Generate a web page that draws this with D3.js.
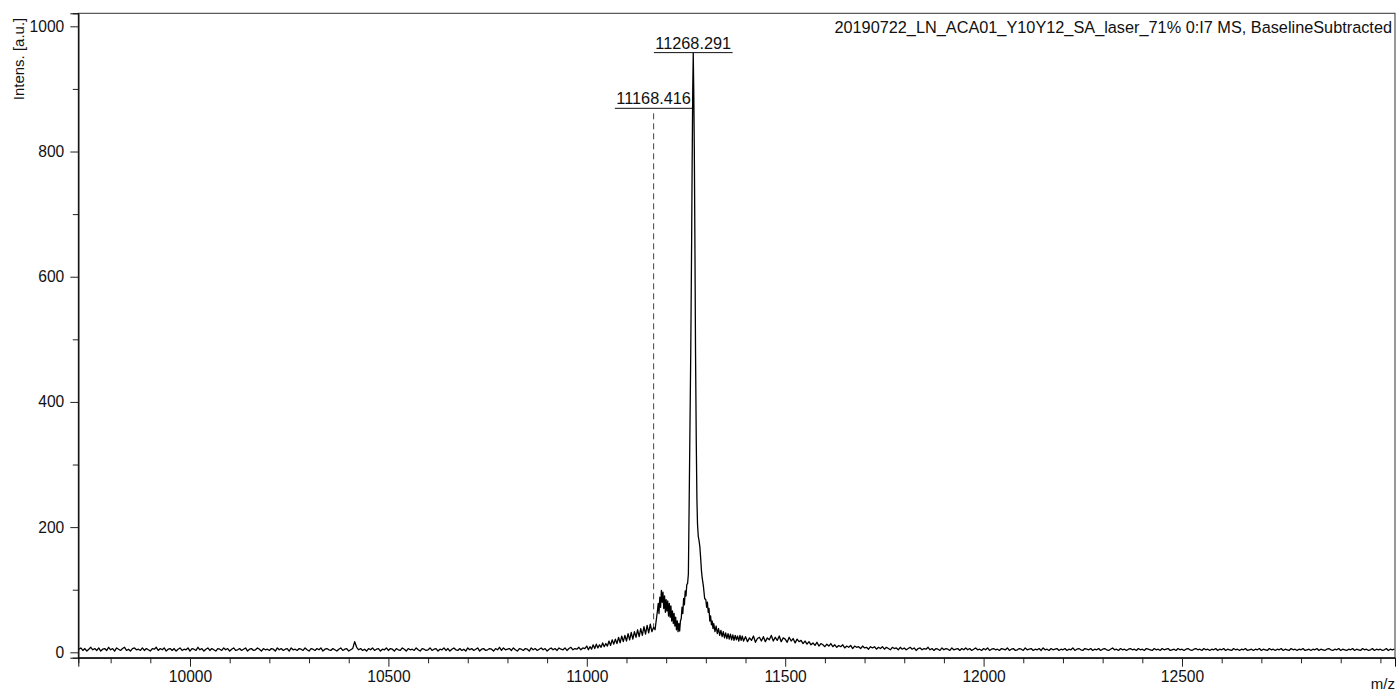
<!DOCTYPE html>
<html>
<head>
<meta charset="utf-8">
<script src="https://cdn.jsdelivr.net/npm/d3@7"></script>
<style>
  html, body { margin: 0; padding: 0; background: #fff; }
  svg { display: block; font-family: "Liberation Sans", Arial, Helvetica, sans-serif; }
</style>
</head>
<body>
<svg id="chart" width="1399" height="695"></svg>
<script>
// ---- Spectrum data -------------------------------------------------------
const spectrumTitle = "20190722_LN_ACA01_Y10Y12_SA_laser_71% 0:I7 MS, BaselineSubtracted";

// Low-mass baseline, sampled every 5 m/z from 9720 to 10995
const baselineStart = 9720, baselineStep = 5;
const baselineIntensity = [
  5,7,3,6,2,5,8,4,6,3,7,2,5,6,3,8,
  4,6,2,7,5,3,6,8,3,5,2,6,7,4,5,3,
  7,3,6,4,2,6,5,8,3,6,4,7,2,5,6,3,
  6,2,5,7,3,5,4,7,2,6,5,3,8,4,6,2,
  5,7,3,6,4,2,6,5,3,7,4,6,2,5,7,3,
  4,6,3,5,7,2,5,6,3,4,7,5,2,6,4,5,
  3,6,5,2,7,4,6,3,5,6,2,7,4,5,3,6,
  5,3,7,4,2,6,5,3,6,4,7,2,5,6,4,3,
  6,4,2,5,7,3,5,6,2,4,6,17,8,4,6,3,
  5,2,6,4,7,3,5,6,2,5,4,7,3,6,5,2,
  6,4,3,7,5,2,6,4,5,3,7,4,2,6,5,3,
  4,7,3,5,6,2,5,4,7,3,6,2,5,7,4,3,
  6,3,5,2,7,4,6,3,5,7,2,5,6,3,4,6,
  5,2,6,4,8,3,7,4,5,6,3,7,4,2,6,5,
  3,6,5,2,7,4,6,3,5,7,4,6,2,5,7,4,
  6,3,7,5,4,7,3,6,8,4,6,5,8,4,7,6
];

// Main peak cluster, [m/z, intensity]
const peakRegion = [
  [11000,10],[11004,4],[11008,9],[11012,5],[11016,12],[11020,6],[11024,13],[11028,7],
  [11032,12],[11036,8],[11040,15],[11044,9],[11048,14],[11052,10],[11056,18],[11060,11],
  [11064,20],[11068,13],[11072,21],[11076,14],[11080,24],[11084,15],[11088,26],[11092,17],
  [11096,27],[11100,18],[11104,30],[11108,20],[11112,32],[11116,21],[11120,33],[11124,24],
  [11128,36],[11132,25],[11136,38],[11140,27],[11144,41],[11148,29],[11152,43],[11156,31],
  [11160,45],[11164,33],[11168.416,40],[11172,36],
  [11174,46],[11176,56],[11178,66],[11180,78],[11182,62],[11184,88],[11186,72],[11188,99],
  [11190,80],[11192,96],[11194,70],[11196,90],[11198,64],[11200,84],[11202,66],[11204,82],
  [11206,58],[11208,78],[11210,56],[11212,74],[11214,50],[11216,66],[11218,46],[11220,62],
  [11222,42],[11224,56],[11226,36],[11228,50],[11230,33],[11232,46],[11234,34],[11236,50],
  [11238,54],[11240,72],[11242,62],[11244,86],[11246,76],[11248,98],[11250,90],[11252,108],
  [11254,110],[11256,125],[11258,240],[11260,360],[11262,480],[11264,640],[11265.5,780],
  [11267,900],[11268.291,957],[11269.5,900],[11271,800],[11272.5,650],[11274,480],
  [11276,330],[11277.5,245],[11279,205],[11281,185],[11283,178],[11285,168],[11287,150],
  [11289,130],[11291,118],[11294,105],[11297,86],
  [11300,84],[11302,72],[11304,80],[11306,64],[11308,70],[11310,50],[11312,58],[11314,44],
  [11316,50],[11318,38],[11320,46],[11323,33],[11326,42],[11329,30],[11332,38],[11335,27],
  [11338,35],[11341,25],[11344,33],[11347,23],[11350,31],[11353,22],[11356,30],[11359,21],
  [11362,29],[11365,20],[11368,28],[11371,19],[11374,27],[11377,20],[11380,26],[11383,18],
  [11386,27],[11389,19],[11392,26],[11395,18]
];

// High-mass tail, sampled every 5 m/z from 11400 to 13035
const tailStart = 11400, tailStep = 5;
const tailIntensity = [
  25,17,23,19,26,16,22,24,18,25,17,23,20,27,18,24,
  19,26,17,23,21,16,24,18,22,15,21,17,19,14,18,13,
  17,12,15,11,16,10,14,12,9,13,10,14,9,12,8,11,
  9,12,7,10,8,11,6,10,8,9,6,10,7,8,5,9,
  7,9,5,8,6,9,5,8,6,4,8,6,7,4,8,5,
  7,4,6,8,5,7,3,6,7,4,6,5,8,4,6,3,
  6,5,3,7,4,6,5,3,7,4,5,6,3,6,4,7,
  4,6,3,5,7,4,5,3,6,4,7,3,5,6,4,5,
  3,6,5,4,7,3,5,6,3,4,6,5,3,7,4,5,
  6,3,5,4,6,3,7,4,5,3,6,4,5,6,3,5,
  4,6,3,5,4,7,3,5,6,4,3,6,5,4,6,3,
  5,4,6,3,5,6,4,3,5,7,4,5,3,6,4,5,
  3,5,6,4,5,3,6,4,5,3,6,5,4,3,6,4,
  5,3,6,4,5,6,3,4,5,3,6,4,5,3,5,6,
  4,3,5,6,4,5,3,6,4,5,3,5,4,6,3,5,
  4,6,3,5,4,3,6,4,5,3,5,4,6,3,4,5,
  3,5,4,6,3,5,4,3,6,4,5,3,5,4,6,3,
  5,4,3,6,4,5,3,5,4,6,3,4,5,3,5,4,
  6,3,5,4,3,5,6,4,3,5,4,6,3,5,4,3,
  5,4,6,3,5,4,3,6,4,5,3,4,6,3,5,4,
  5,3,4,6,3,5,4,5
];

// Labelled peaks
const peakLabels = [11268.291, 11168.416];

// Axis ticks
const xMajorTicks = [10000, 10500, 11000, 11500, 12000, 12500];
const yMajorTicks = [0, 200, 400, 600, 800, 1000];

// ---- Assemble spectrum ---------------------------------------------------
const spectrum = []
  .concat(baselineIntensity.map((v, i) => [baselineStart + i * baselineStep, v]))
  .concat(peakRegion)
  .concat(tailIntensity.map((v, i) => [tailStart + i * tailStep, v]));

// ---- Layout ---------------------------------------------------------------
const plot = { left: 78.3, right: 1395, top: 13.3, bottom: 657.7 };
const svg = d3.select("#chart");

const x = d3.scaleLinear().domain([9718.5, 13036.8]).range([plot.left, plot.right]);
const y = d3.scaleLinear().domain([-8.6, 1020.8]).range([plot.bottom, plot.top]);

svg.append("defs").append("clipPath").attr("id", "plotClip")
  .append("rect")
  .attr("x", plot.left).attr("y", plot.top)
  .attr("width", plot.right - plot.left).attr("height", plot.bottom - plot.top);

// Frame
svg.append("rect")
  .attr("x", plot.left).attr("y", plot.top)
  .attr("width", plot.right - plot.left).attr("height", plot.bottom - plot.top)
  .attr("fill", "none").attr("stroke", "#333").attr("stroke-width", 1);

// ---- X axis ----------------------------------------------------------------
const xMinor = d3.range(9800, 13001, 100).filter(v => !xMajorTicks.includes(v));
const xAxisMinor = d3.axisBottom(x).tickValues(xMinor).tickSize(5.6).tickFormat("");
const xAxisMajor = d3.axisBottom(x).tickValues(xMajorTicks).tickSize(9).tickPadding(4)
  .tickFormat(d3.format("d"));

const gxMinor = svg.append("g").attr("transform", `translate(0,${plot.bottom})`).call(xAxisMinor);
const gxMajor = svg.append("g").attr("transform", `translate(0,${plot.bottom})`).call(xAxisMajor);
[gxMinor, gxMajor].forEach(g => {
  g.select(".domain").attr("stroke", "#111");
  g.selectAll(".tick line").attr("stroke", "#222");
});
gxMajor.selectAll(".tick text")
  .attr("fill", "#111").attr("font-size", 15.6)
  .attr("font-family", "Liberation Sans, Arial, sans-serif");

// ---- Y axis ----------------------------------------------------------------
const yMinor = d3.range(100, 1001, 200);
const yAxisMinor = d3.axisLeft(y).tickValues(yMinor).tickSize(5.5).tickFormat("");
const yAxisMajor = d3.axisLeft(y).tickValues(yMajorTicks).tickSize(8).tickPadding(6)
  .tickFormat(d3.format("d"));

const gyMinor = svg.append("g").attr("transform", `translate(${plot.left},0)`).call(yAxisMinor);
const gyMajor = svg.append("g").attr("transform", `translate(${plot.left},0)`).call(yAxisMajor);
[gyMinor, gyMajor].forEach(g => {
  g.select(".domain").attr("stroke", "#111");
  g.selectAll(".tick line").attr("stroke", "#222");
});
gyMajor.selectAll(".tick text")
  .attr("fill", "#111").attr("font-size", 15.6)
  .attr("font-family", "Liberation Sans, Arial, sans-serif");

// Axis titles
svg.append("text")
  .attr("transform", `translate(24,59) rotate(-90)`)
  .attr("text-anchor", "middle")
  .attr("font-size", 15).attr("fill", "#111")
  .text("Intens. [a.u.]");

svg.append("text")
  .attr("x", 1395).attr("y", 689)
  .attr("text-anchor", "end")
  .attr("font-size", 15).attr("fill", "#111")
  .text("m/z");

// Spectrum title
svg.append("text")
  .attr("x", 1392).attr("y", 33)
  .attr("text-anchor", "end")
  .attr("font-size", 16.3).attr("fill", "#111")
  .text(spectrumTitle);

// ---- Spectrum trace ----------------------------------------------------------
const line = d3.line().x(d => x(d[0])).y(d => y(d[1]));
svg.append("path")
  .datum(spectrum)
  .attr("clip-path", "url(#plotClip)")
  .attr("fill", "none")
  .attr("stroke", "#000")
  .attr("stroke-width", 1.3)
  .attr("stroke-linejoin", "round")
  .attr("d", line);

// ---- Peak annotations ---------------------------------------------------------
const intensityAt = mz => {
  const i = d3.bisector(d => d[0]).left(spectrum, mz);
  const a = spectrum[Math.max(0, i - 1)], b = spectrum[Math.min(spectrum.length - 1, i)];
  if (b[0] === a[0]) return b[1];
  return a[1] + (b[1] - a[1]) * (mz - a[0]) / (b[0] - a[0]);
};

// label levels (intensity units) for the stacked annotation boxes
const labelLevels = [958, 869];

peakLabels.forEach((mz, i) => {
  const px = x(mz);
  const ly = y(labelLevels[i]);
  const g = svg.append("g");
  const t = g.append("text")
    .attr("x", px).attr("y", ly - 4)
    .attr("text-anchor", "middle")
    .attr("font-size", 16.3).attr("fill", "#111")
    .text(mz.toFixed(3));
  const w = t.node().getComputedTextLength();
  g.append("line")
    .attr("x1", px - w / 2 - 1.5).attr("x2", px + w / 2 + 1.5)
    .attr("y1", ly).attr("y2", ly)
    .attr("stroke", "#111").attr("stroke-width", 1);
  const peakY = y(intensityAt(mz));
  if (i === 0) {
    g.append("line")
      .attr("x1", px).attr("x2", px).attr("y1", ly).attr("y2", peakY)
      .attr("stroke", "#111").attr("stroke-width", 1);
  } else {
    g.append("line")
      .attr("x1", px).attr("x2", px).attr("y1", ly + 5).attr("y2", peakY)
      .attr("stroke", "#444").attr("stroke-width", 1)
      .attr("stroke-dasharray", "6,4");
  }
});
</script>
</body>
</html>
